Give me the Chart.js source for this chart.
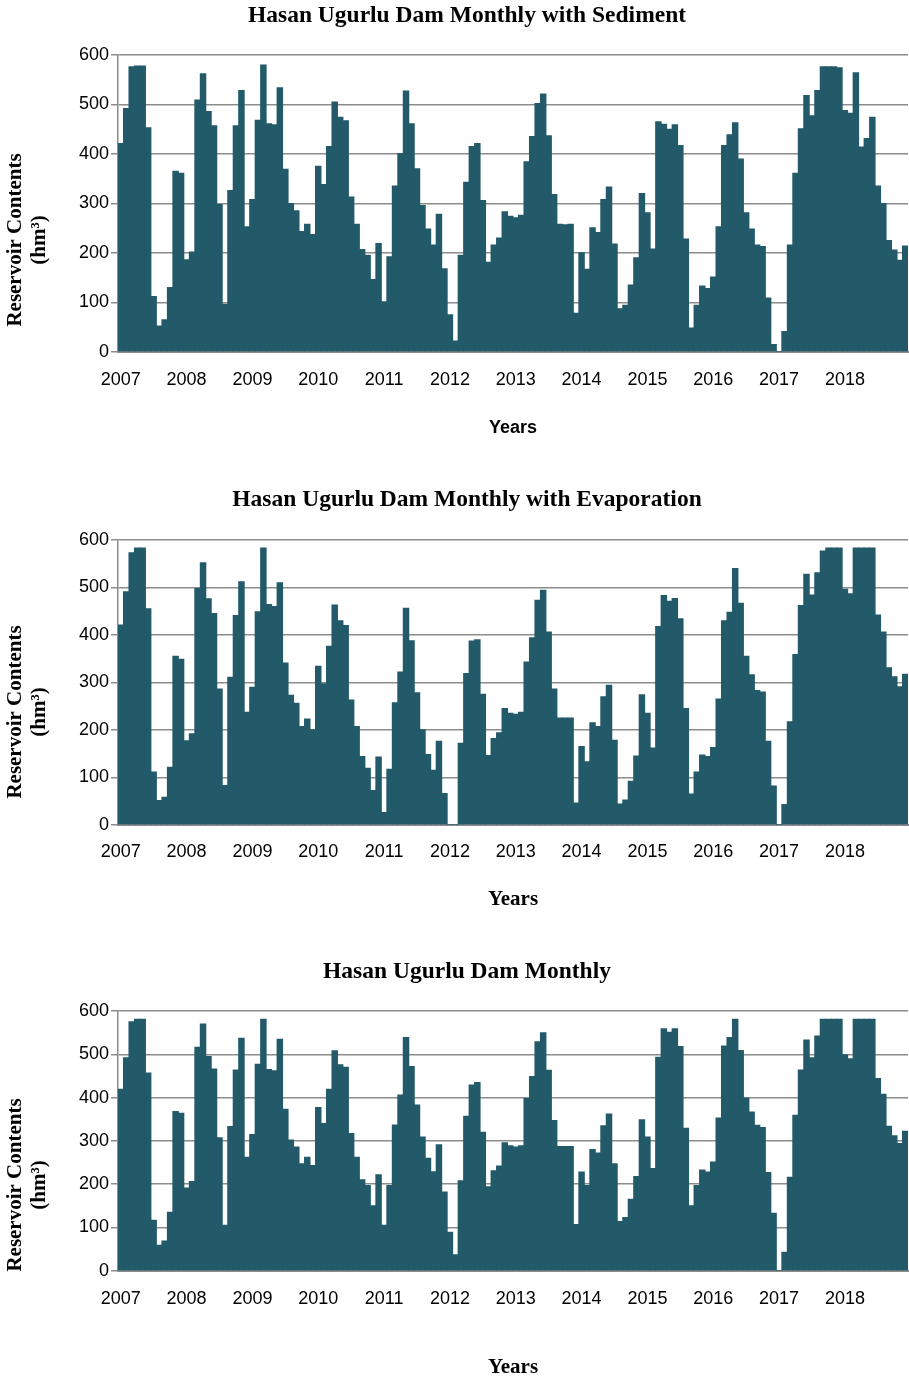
<!DOCTYPE html>
<html>
<head>
<meta charset="utf-8">
<title>Hasan Ugurlu Dam Monthly</title>
<script src="https://cdn.jsdelivr.net/npm/chart.js@4.4.1/dist/chart.umd.min.js"></script>
<style>
  html, body { margin: 0; padding: 0; background: #fff; }
  .panel { position: absolute; left: 0; width: 909px; }
</style>
</head>
<body>
<div class="panel" style="top:0px"><canvas id="chart1" width="909" height="442"></canvas></div>
<div class="panel" style="top:470px"><canvas id="chart2" width="909" height="445"></canvas></div>
<div class="panel" style="top:940px"><canvas id="chart3" width="909" height="441"></canvas></div>
<script>
// years on the x axis, one bar per month
const years = [2007, 2008, 2009, 2010, 2011, 2012, 2013, 2014, 2015, 2016, 2017, 2018];
const yTicks = [0, 100, 200, 300, 400, 500, 600];

// reservoir contents (hm3), Jan..Dec for each year
const withSediment = [
  421, 492, 576, 578, 578, 453, 112, 52, 65, 130, 365, 361,
  186, 202, 509, 562, 486, 457, 298, 96, 326, 457, 528, 253,
  308, 468, 580, 461, 459, 534, 369, 300, 285, 243, 258, 237,
  375, 338, 415, 505, 474, 467, 313, 258, 207, 195, 146, 219,
  101, 192, 335, 401, 527, 461, 370, 296, 248, 216, 278, 168,
  75, 22, 195, 343, 415, 421, 306, 181, 216, 230, 283, 274,
  271, 276, 384, 435, 502, 521, 437, 318, 258, 257, 258, 78,
  200, 167, 251, 241, 308, 333, 218, 87, 94, 135, 190, 320,
  281, 208, 465, 460, 450, 459, 417, 228, 48, 94, 133, 128,
  151, 253, 417, 439, 463, 390, 281, 248, 216, 213, 109, 15,
  0, 41, 216, 361, 451, 518, 477, 528, 576, 576, 576, 574,
  488, 482, 564, 414, 431, 474, 335, 300, 225, 206, 185, 214
];
const withEvaporation = [
  421, 491, 573, 583, 583, 455, 111, 51, 58, 121, 355, 349,
  177, 192, 498, 552, 476, 445, 286, 83, 311, 441, 512, 237,
  290, 449, 583, 464, 460, 510, 341, 273, 256, 207, 223, 200,
  334, 297, 376, 463, 430, 420, 263, 207, 144, 119, 72, 143,
  26, 117, 257, 322, 456, 388, 278, 200, 148, 115, 176, 66,
  0, 0, 172, 319, 387, 390, 275, 146, 182, 194, 245, 235,
  233, 237, 343, 394, 473, 494, 406, 286, 225, 225, 225, 46,
  165, 133, 215, 207, 270, 294, 178, 44, 52, 92, 145, 274,
  235, 162, 418, 483, 471, 477, 434, 245, 65, 111, 147, 144,
  163, 265, 430, 448, 540, 467, 355, 316, 283, 280, 176, 82,
  0, 43, 217, 359, 462, 528, 484, 531, 577, 583, 583, 583,
  496, 487, 583, 583, 583, 583, 442, 406, 331, 312, 291, 317
];
const monthly = [
  419, 492, 575, 581, 581, 457, 117, 59, 69, 135, 368, 364,
  191, 206, 516, 570, 495, 466, 307, 105, 333, 464, 537, 262,
  315, 477, 581, 465, 462, 535, 373, 302, 286, 247, 262, 243,
  377, 340, 419, 508, 476, 470, 317, 262, 210, 197, 150, 222,
  105, 197, 337, 406, 539, 472, 383, 309, 260, 229, 291, 182,
  89, 37, 208, 357, 429, 435, 320, 194, 231, 242, 296, 289,
  286, 289, 398, 449, 529, 550, 463, 347, 287, 287, 287, 107,
  228, 197, 280, 272, 335, 362, 247, 114, 123, 165, 218, 349,
  309, 236, 493, 559, 551, 559, 518, 329, 150, 197, 233, 228,
  251, 353, 519, 539, 581, 509, 399, 367, 336, 331, 227, 133,
  0, 43, 216, 359, 464, 533, 492, 542, 581, 581, 581, 581,
  499, 490, 581, 581, 581, 581, 444, 408, 334, 312, 294, 322
];

// one label per month, only January carries the year
const monthLabels = [];
years.forEach(y => {
  for (let m = 0; m < 12; m++) monthLabels.push(m === 0 ? String(y) : '');
});

const barColor = '#235a69';
const gridColor = '#8c8c8c';
const serif = '"Liberation Serif", "Times New Roman", serif';
const sans = '"Liberation Sans", Arial, sans-serif';

// rotated two line y title, Chart.js has no way to offset it
const sideTitle = {
  id: 'sideTitle',
  afterDraw(chart, args, opts) {
    const ctx = chart.ctx;
    ctx.save();
    ctx.font = 'bold 21px ' + serif;
    ctx.fillStyle = '#000';
    ctx.textAlign = 'center';
    ctx.textBaseline = 'middle';
    opts.lines.forEach((line, i) => {
      ctx.save();
      ctx.translate(opts.x[i], opts.y);
      ctx.rotate(-Math.PI / 2);
      ctx.fillText(line, 0, 0);
      ctx.restore();
    });
    ctx.restore();
  }
};

function damChart(id, title, values, pos, yearsFont) {
  const canvas = document.getElementById(id);
  const H = canvas.height;
  const tickSize = 18, tickLh = tickSize * 1.2;
  const titleSize = 23.5, titleLh = titleSize * 1.2;
  const yrsLh = yearsFont.size * 1.2;
  const leftPad = 26; // shifts the chart title centre to x=467

  const titleTop = pos.titleY - pos.top - titleLh / 2;
  const titleBottom = pos.plotTop - pos.top - titleTop - titleLh;
  const tickPad = pos.tickY - pos.plotBottom - tickLh / 2;
  const yrsTop = pos.yearsY - pos.tickY - tickLh / 2 - yrsLh / 2;
  const yrsBottom = H - (pos.yearsY - pos.top) - yrsLh / 2;

  return new Chart(canvas, {
    type: 'bar',
    data: {
      labels: monthLabels,
      datasets: [{
        data: values,
        backgroundColor: barColor,
        borderWidth: 0,
        inflateAmount: 0.5,
        categoryPercentage: 1,
        barPercentage: 1
      }]
    },
    options: {
      responsive: false,
      animation: false,
      layout: { padding: { left: leftPad, right: 1, top: 0, bottom: 0 } },
      plugins: {
        legend: { display: false },
        tooltip: { enabled: false },
        title: {
          display: true,
          text: title,
          color: '#000',
          font: { family: serif, size: titleSize, weight: 'bold' },
          padding: { top: titleTop, bottom: titleBottom }
        },
        sideTitle: { lines: ['Reservoir Contents', '(hm\u00B3)'], x: [16, 40], y: pos.yTitleY - pos.top }
      },
      scales: {
        x: {
          // tick padding would otherwise be added to the side paddings
          afterFit: s => { s.paddingLeft = 0; s.paddingRight = 0; },
          grid: { display: false, drawTicks: false },
          border: { display: true, color: gridColor, width: 2 },
          ticks: {
            autoSkip: false,
            maxRotation: 0,
            minRotation: 0,
            padding: tickPad,
            color: '#000',
            font: { family: sans, size: tickSize }
          },
          title: {
            display: true,
            text: 'Years',
            color: '#000',
            font: { family: yearsFont.family, size: yearsFont.size, weight: 'bold' },
            padding: { top: yrsTop, bottom: yrsBottom }
          }
        },
        y: {
          min: 0,
          max: 600,
          afterFit: s => { s.width = 118 - leftPad; },
          afterBuildTicks: s => { s.ticks = yTicks.map(v => ({ value: v })); },
          grid: { color: gridColor, lineWidth: 1.5, tickLength: 7 },
          border: { display: true, color: gridColor, width: 1.5 },
          ticks: {
            padding: 2,
            color: '#000',
            font: { family: sans, size: tickSize }
          }
        }
      }
    },
    plugins: [sideTitle]
  });
}

damChart('chart1', 'Hasan Ugurlu Dam Monthly with Sediment', withSediment,
  { top: 0, titleY: 16, plotTop: 55, plotBottom: 369, tickY: 397, yearsY: 428, yTitleY: 240 },
  { family: sans, size: 18 });
damChart('chart2', 'Hasan Ugurlu Dam Monthly with Evaporation', withEvaporation,
  { top: 470, titleY: 500, plotTop: 540, plotBottom: 841, tickY: 868, yearsY: 900, yTitleY: 712 },
  { family: serif, size: 21 });
damChart('chart3', 'Hasan Ugurlu Dam Monthly', monthly,
  { top: 940, titleY: 972, plotTop: 1011, plotBottom: 1288, tickY: 1316, yearsY: 1368, yTitleY: 1185 },
  { family: serif, size: 21 });
</script>
</body>
</html>
